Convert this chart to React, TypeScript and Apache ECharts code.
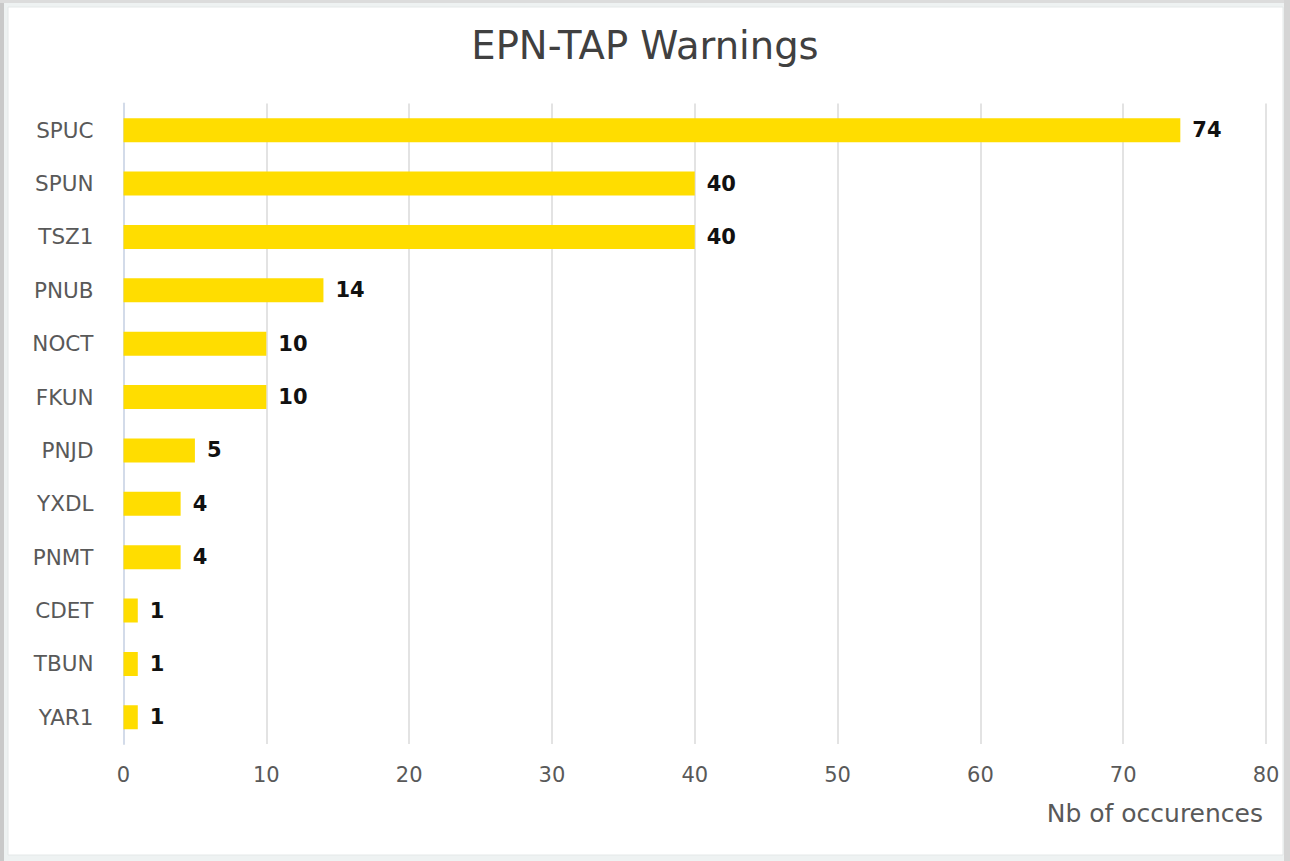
import React, { useEffect, useRef } from "react";
import * as echarts from "echarts";

const categories = ["SPUC", "SPUN", "TSZ1", "PNUB", "NOCT", "FKUN", "PNJD", "YXDL", "PNMT", "CDET", "TBUN", "YAR1"];
const values = [74, 40, 40, 14, 10, 10, 5, 4, 4, 1, 1, 1];
const xTicks = { min: 0, max: 80, interval: 10 };
const titleText = "EPN-TAP Warnings";
const xAxisName = "Nb of occurences";

const FONT = "'DejaVu Sans', 'Open Sans', sans-serif";

export default function App() {
  const ref = useRef<HTMLDivElement>(null);
  useEffect(() => {
    if (!ref.current) return;
    const chart = echarts.init(ref.current, null, { renderer: "svg" });
    chart.setOption({
      animation: false,
      backgroundColor: "#eef2f2",
      graphic: [
        { type: "rect", z: -10, shape: { x: 0, y: 0, width: 4, height: 861 }, style: { fill: "#c9c9c9" } },
        { type: "rect", z: -10, shape: { x: 0, y: 0, width: 1290, height: 3 }, style: { fill: "#dcdcdc" } },
        { type: "rect", z: -10, shape: { x: 1284, y: 0, width: 6, height: 861 }, style: { fill: "#d5d5d5" } },
        {
          type: "rect",
          z: -9,
          shape: { x: 8, y: 7, width: 1275, height: 848 },
          style: { fill: "#ffffff", stroke: "#e4e8e8", lineWidth: 1 },
        },
        {
          type: "text",
          right: 27,
          top: 801,
          style: { text: xAxisName, font: `25px ${FONT}`, fill: "#595959", textAlign: "right" },
        },
      ],
      title: {
        text: titleText,
        left: "center",
        top: 21,
        textStyle: { fontFamily: FONT, fontSize: 38.5, fontWeight: "normal", color: "#404040" },
      },
      grid: { left: 123.5, right: 24, top: 103.5, bottom: 117 },
      xAxis: {
        type: "value",
        min: xTicks.min,
        max: xTicks.max,
        interval: xTicks.interval,
        axisLine: { show: false },
        axisTick: { show: false },
        axisLabel: { fontFamily: FONT, fontSize: 21, color: "#595959", margin: 20 },
        splitLine: { lineStyle: { color: "#e3e3e3", width: 2 } },
      },
      yAxis: {
        type: "category",
        data: categories,
        inverse: true,
        axisLine: { show: true, lineStyle: { color: "#d3dbe9", width: 2 } },
        axisTick: { show: false },
        axisLabel: { fontFamily: FONT, fontSize: 21.5, color: "#595959", margin: 30 },
      },
      series: [
        {
          type: "bar",
          data: values,
          barWidth: 24,
          itemStyle: { color: "#ffdd00" },
          label: {
            show: true,
            position: "right",
            distance: 12,
            fontFamily: FONT,
            fontSize: 21,
            fontWeight: "bold",
            color: "#111111",
          },
        },
      ],
    });
    return () => chart.dispose();
  }, []);
  return <div ref={ref} style={{ position: "fixed", left: 0, top: 0, width: 1290, height: 861 }} />;
}
